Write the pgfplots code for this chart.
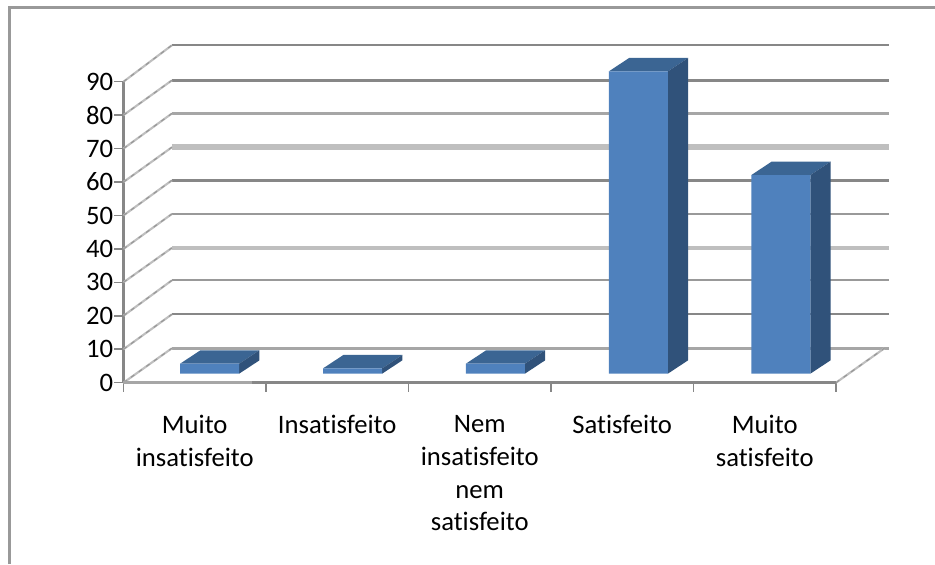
\documentclass[border=0pt]{standalone}
\usepackage{pgfplots}
\usepackage{fontspec}
\setmainfont[Ligatures=NoCommon]{Carlito}
\pgfplotsset{compat=1.18}
\definecolor{gA}{gray}{0.53}
\definecolor{gB}{gray}{0.60}
\definecolor{gC}{gray}{0.65}
\definecolor{gD}{gray}{0.75}
\definecolor{barF}{HTML}{4F81BD}
\definecolor{barT}{HTML}{3B6593}
\definecolor{barS}{HTML}{30527A}
% back wall line: colour, width (pt), y in axis units
\newcommand\wall[3]{\addplot[draw=#1,line width=#2pt,forget plot] coordinates {(0.34,#3) (5.372,#3)};}
% dotted-looking diagonal from the front plane to the back wall
\newcommand\diag[3]{%
  \addplot[draw=gD,line width=1.6pt,forget plot] coordinates {(#1,#2) (#1+0.34,#3)};
  \addplot[draw=gA!85!white,line width=0.9pt,dash pattern=on 3pt off 4pt,forget plot] coordinates {(#1,#2) (#1+0.34,#3)};}
% top and side faces of a bar: centre, value
\newcommand\faces[2]{%
  \addplot[fill=barT,draw=none,yshift=6.75pt,forget plot] coordinates {(#1-0.207,#2) (#1+0.207,#2) (#1+0.3495,#2+4) (#1-0.0645,#2+4)} --cycle;
  \addplot[fill=barS,draw=none,yshift=6.75pt,forget plot] coordinates {(#1+0.207,0) (#1+0.207,#2) (#1+0.3495,#2+4) (#1+0.3495,4)} --cycle;}
\begin{document}
\begin{tikzpicture}
\path[use as bounding box] (0,0) rectangle (701.25pt,-423pt);
\draw[gB,line width=1.7pt] (7.1pt,-423pt) -- (7.1pt,-5.6pt) -- (701.25pt,-5.6pt);
\begin{axis}[
  at={(92.6pt,-287pt)},anchor=origin,
  scale only axis,width=534.4pt,height=225.75pt,
  xmin=0,xmax=5,ymin=0,ymax=90,clip=false,
  axis x line=bottom,axis y line=left,
  axis line style={-,draw=gA,line width=1.7pt},
  x axis line style={draw=none},
  ytick={0,10,...,90},
  xtick={0.5,1.5,2.5,3.5,4.5},
  minor xtick={0,1,2,3,4,5},
  xticklabels={{Muito\\insatisfeito},{Insatisfeito},{Nem\\insatisfeito\\nem\\satisfeito},{Satisfeito},{Muito\\satisfeito}},
  major tick length=6.75pt,minor tick length=6.75pt,
  tick align=outside,
  tick style={draw=gA,line width=1.2pt},
  major x tick style={draw=none},
  tick label style={font=\fontsize{20}{24.7}\selectfont,text=black},
  xticklabel style={align=center,anchor=north,yshift=-14pt},
  yticklabel style={/pgf/number format/assume math mode=true,xshift=2.5pt},
]
% back wall gridlines
\wall{gC}{2.4}{10.29}
\wall{gA}{1.8}{20.45}
\wall{gB}{1.6}{30.6}
\wall{gD}{3.2}{40.3}
\wall{gB}{1.7}{50.45}
\wall{gA}{1.8}{60.5}
\wall{gD}{4.6}{70.4}
\wall{gC}{2.7}{80.5}
\wall{gA}{1.8}{90.4}
\wall{gA}{1.8}{100.9}
% diagonals
\diag{0}{0}{10.29}
\diag{0}{10}{20.45}
\diag{0}{20}{30.6}
\diag{0}{30}{40.3}
\diag{0}{40}{50.45}
\diag{0}{50}{60.5}
\diag{0}{60}{70.4}
\diag{0}{70}{80.5}
\diag{0}{80}{90.4}
\diag{0}{90}{100.9}
\diag{5}{0}{10.29}
% floor front edge
\addplot[draw=gC,line width=1.9pt,forget plot] coordinates {(0,0) (0.905,0)};
\addplot[draw=gA,line width=1.9pt,forget plot] coordinates {(0.905,0) (5,0)};
% bars
\faces{0.605}{3}
\faces{1.608}{1.6}
\faces{2.61}{3}
\faces{3.613}{90.4}
\faces{4.613}{59.4}
\addplot[ybar,bar shift=0pt,bar width=0.414,fill=barF,draw=none,yshift=6.75pt] coordinates {
  (0.605,3) (1.608,1.6) (2.61,3) (3.613,90.4) (4.613,59.4)};
\end{axis}
\end{tikzpicture}
\end{document}
